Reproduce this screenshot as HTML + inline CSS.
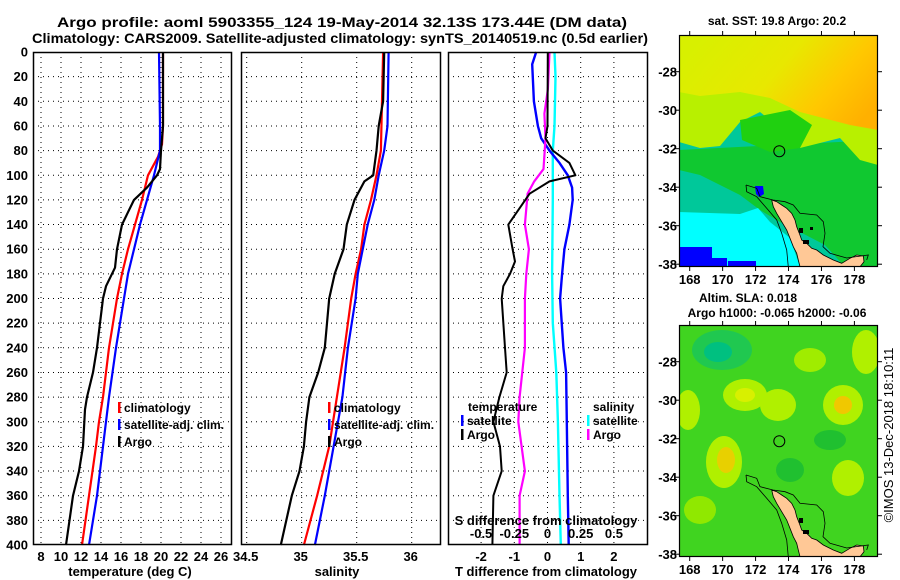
<!DOCTYPE html>
<html><head><meta charset="utf-8"><style>
html,body{margin:0;padding:0;background:#fff;}
svg{display:block;font-family:"Liberation Sans",sans-serif;}
.t{font-weight:bold;font-size:12px;fill:#000;}
</style></head><body>
<svg id="fig" width="900" height="580" viewBox="0 0 900 580" xmlns="http://www.w3.org/2000/svg">
<text x="57" y="27" class="t" style="font-size:14px" textLength="570" lengthAdjust="spacingAndGlyphs">Argo profile: aoml 5903355_124 19-May-2014 32.13S 173.44E (DM data)</text>
<text x="32" y="43" class="t" style="font-size:14px" textLength="616" lengthAdjust="spacingAndGlyphs">Climatology: CARS2009. Satellite-adjusted climatology: synTS_20140519.nc (0.5d earlier)</text>
<g id="p1"></g>
<g id="p2"></g>
<g id="p3"></g>

<!-- SST map -->
<g>
<defs>
<linearGradient id="topg" x1="0" y1="0.3" x2="1" y2="0.7">
<stop offset="0" stop-color="#d8f000"/><stop offset="0.45" stop-color="#e8e800"/><stop offset="0.75" stop-color="#ffc800"/><stop offset="1" stop-color="#ffb000"/>
</linearGradient>
<clipPath id="c1"><rect x="679" y="35" width="199" height="232"/></clipPath>
<clipPath id="c2"><rect x="679" y="325" width="199" height="232"/></clipPath>
</defs>
<text x="777" y="25" text-anchor="middle" class="t">sat. SST: 19.8 Argo: 20.2</text>
<g clip-path="url(#c1)">
<rect x="679" y="35" width="199" height="232" fill="#00c89a"/>
<polygon points="679,150 878,140 878,267 845,267 825,245 800,232 780,222 760,210 740,195 720,185 700,175 679,170" fill="#10c830"/>
<polygon points="679,35 878,35 878,165 860,160 840,138 800,148 780,128 760,112 740,122 720,146 700,148 679,142" fill="#b8f000"/>
<polygon points="679,35 878,35 878,130 850,125 800,112 770,98 740,92 700,96 679,92" fill="url(#topg)"/>
<polygon points="740,120 790,110 812,125 800,148 770,152 742,140" fill="#20d010"/>
<polygon points="679,212 740,214 758,208 770,222 790,238 800,267 679,267" fill="#00ffff"/>
<rect x="679" y="247" width="33" height="20" fill="#0000ff"/>
<rect x="712" y="258" width="15" height="9" fill="#0000ff"/>
<rect x="728" y="261" width="28" height="6" fill="#0000ff"/>
<polygon points="755,186 763,186 764,194 759,197 756,194" fill="#0000ff"/>
<polygon points="771.7,200 776.7,201.7 781.7,205 786.7,208.3 791.7,213.3 795,220 796.7,226.7 799.3,233.3 801.7,240 806.7,243.3 811.7,248.3 816.7,250 823.3,255 833.3,260 841.7,263.3 850,258.3 856.7,255 863.3,256 864,261.7 860,266.7 800,266.7 798.3,260 796.7,253.3 793.3,246.7 790,238.3 786.7,230 781.7,221.7 776.7,213.3 773.3,206.7" fill="#ffc896" stroke="#000" stroke-width="0.8"/>
<polyline points="746,185 756.7,188.3 760,196.7 773,200 785,201.7 793.3,205 800,213.3 816.7,215 823.3,221.7 825,233.3 823,246.7 830,253.3 846.7,258 868.3,255 866.7,260" fill="none" stroke="#000" stroke-width="0.8"/>
<polyline points="746,185 746.7,191.7 756.7,196.7 766.7,208.3 776.7,220 781.7,233.3 786.7,250 788.3,267" fill="none" stroke="#000" stroke-width="0.8"/>
<rect x="799" y="228" width="4" height="5" fill="#000"/><rect x="803" y="240" width="6" height="4" fill="#000"/><rect x="810" y="227" width="3" height="3" fill="#000"/>
<circle cx="779.3" cy="151.2" r="5.5" fill="none" stroke="#000" stroke-width="1"/>
</g>
<rect x="679.5" y="35.5" width="198" height="231" fill="none" stroke="#000" stroke-width="1.2"/>
</g>

<!-- SLA map -->
<g>
<text x="748" y="302" text-anchor="middle" class="t">Altim. SLA: 0.018</text>
<text x="777" y="317" text-anchor="middle" class="t">Argo h1000: -0.065 h2000: -0.06</text>
<g clip-path="url(#c2)">
<rect x="679" y="325" width="199" height="232" fill="#40d420"/>
<ellipse cx="722" cy="350" rx="30" ry="20" fill="#20c850"/>
<ellipse cx="718" cy="352" rx="14" ry="10" fill="#00c080"/>
<ellipse cx="745" cy="395" rx="22" ry="16" fill="#b0f000"/>
<ellipse cx="745" cy="395" rx="10" ry="7" fill="#d8f000"/>
<ellipse cx="778" cy="405" rx="18" ry="16" fill="#b0f000"/>
<ellipse cx="724" cy="462" rx="18" ry="26" fill="#b0f000"/>
<ellipse cx="726" cy="460" rx="9" ry="13" fill="#e8d000"/>
<ellipse cx="843" cy="405" rx="20" ry="20" fill="#b0f000"/>
<ellipse cx="843" cy="405" rx="9" ry="9" fill="#f0c800"/>
<ellipse cx="848" cy="478" rx="16" ry="18" fill="#b0f000"/>
<ellipse cx="866" cy="352" rx="14" ry="22" fill="#b0f000"/>
<ellipse cx="688" cy="410" rx="12" ry="20" fill="#b0f000"/>
<ellipse cx="810" cy="360" rx="16" ry="12" fill="#a0ec00"/>
<ellipse cx="700" cy="510" rx="16" ry="14" fill="#90e800"/>
<ellipse cx="790" cy="470" rx="14" ry="12" fill="#20c030"/>
<ellipse cx="830" cy="440" rx="16" ry="10" fill="#20c030"/>
<g transform="translate(0,290)">
<polygon points="771.7,200 776.7,201.7 781.7,205 786.7,208.3 791.7,213.3 795,220 796.7,226.7 799.3,233.3 801.7,240 806.7,243.3 811.7,248.3 816.7,250 823.3,255 833.3,260 841.7,263.3 850,258.3 856.7,255 863.3,256 864,261.7 860,266.7 800,266.7 798.3,260 796.7,253.3 793.3,246.7 790,238.3 786.7,230 781.7,221.7 776.7,213.3 773.3,206.7" fill="#ffc896" stroke="#000" stroke-width="0.8"/>
<polyline points="746,185 756.7,188.3 760,196.7 773,200 785,201.7 793.3,205 800,213.3 816.7,215 823.3,221.7 825,233.3 823,246.7 830,253.3 846.7,258 868.3,255 866.7,260" fill="none" stroke="#000" stroke-width="0.8"/>
<polyline points="746,185 746.7,191.7 756.7,196.7 766.7,208.3 776.7,220 781.7,233.3 786.7,250 788.3,267" fill="none" stroke="#000" stroke-width="0.8"/>
<rect x="799" y="228" width="4" height="5" fill="#000"/><rect x="803" y="240" width="6" height="4" fill="#000"/>
<circle cx="779.3" cy="151.2" r="5.5" fill="none" stroke="#000" stroke-width="1"/>
</g>
</g>
<rect x="679.5" y="325.5" width="198" height="231" fill="none" stroke="#000" stroke-width="1.2"/>
</g>
<text transform="translate(893,435) rotate(-90)" text-anchor="middle" style="font-size:13px">©IMOS 13-Dec-2018 18:10:11</text>
</svg>
<script>
// depth levels (m)
const depthTicks = [0,20,40,60,80,100,120,140,160,180,200,220,240,260,280,300,320,340,360,380,400];
// temperature panel
const tDepthClim = [0,60,75,85,100,120,140,160,180,200,240,280,300,320,360,400];
const tClim = [20.2,20.2,20.1,19.7,18.7,18.1,17.4,16.7,16.1,15.6,14.8,14.2,13.8,13.5,12.8,12.1];
const tDepthSat = [0,60,80,100,120,140,160,180,200,240,280,320,360,400];
const tSat = [19.8,19.9,19.9,19.3,18.6,17.9,17.3,16.7,16.3,15.5,14.8,14.2,13.6,12.8];
const tDepthArgo = [0,60,80,95,100,110,120,130,140,160,175,190,200,240,260,280,290,320,340,360,400];
const tArgo = [20.2,20.2,20.0,19.9,19.6,18.6,17.3,16.7,16.1,15.6,15.4,14.5,14.2,13.6,13.2,12.6,12.4,12.2,11.8,11.2,10.5];
const tTicks = [8,10,12,14,16,18,20,22,24,26];
// salinity panel
const sDepthClim = [0,80,100,120,140,160,180,200,240,280,320,360,400];
const sClim = [35.74,35.72,35.68,35.63,35.57,35.54,35.49,35.45,35.39,35.32,35.25,35.14,35.02];
const sDepthSat = [0,60,80,100,120,140,180,200,240,280,320,360,400];
const sSat = [35.79,35.78,35.75,35.70,35.66,35.60,35.51,35.49,35.42,35.37,35.29,35.21,35.12];
const sDepthArgo = [0,40,60,80,100,105,120,140,160,180,200,240,260,280,300,320,340,360,400];
const sArgo = [35.75,35.74,35.70,35.68,35.65,35.57,35.48,35.41,35.38,35.30,35.25,35.21,35.15,35.07,35.04,35.02,34.98,34.91,34.81];
const sTicks = [34.5,35,35.5,36];
// difference panel
const dDepthTSat = [0,10,40,60,70,80,90,100,110,120,140,160,180,200,240,260,300,360,400];
const dTSat = [-0.34,-0.46,-0.41,-0.29,-0.19,0.06,0.36,0.61,0.74,0.76,0.66,0.51,0.44,0.38,0.48,0.56,0.58,0.61,0.64];
const dDepthTArgo = [0,60,70,80,90,100,105,115,140,160,170,180,190,200,240,260,280,300,320,340,360,400];
const dTArgo = [0.01,0,-0.06,0.16,0.66,0.84,0.06,-0.54,-1.18,-1.05,-0.98,-1.13,-1.33,-1.38,-1.28,-1.23,-1.45,-1.63,-1.43,-1.38,-1.63,-1.66];
const dDepthSSat = [0,20,60,80,120,180,220,260,300,360,400];
const dSSat = [0.053,0.06,0.053,0.04,0.04,0.035,0.04,0.066,0.078,0.09,0.10];
const dDepthSArgo = [0,30,50,70,95,105,115,140,160,180,200,240,280,300,340,360,400];
const dSArgo = [0.015,0.003,-0.023,-0.015,-0.03,-0.1,-0.15,-0.17,-0.14,-0.16,-0.17,-0.17,-0.21,-0.22,-0.17,-0.21,-0.21];
const dTTicks = [-2,-1,0,1,2];
const dSTicks = [-0.5,-0.25,0,0.25,0.5];
const dSTickLabels = ['-0.5','-0.25','0','0.25','0.5'];
// map ticks
const lonTicks = [168,170,172,174,176,178];
const latTicks = [-28,-30,-32,-34,-36,-38];

const NS='http://www.w3.org/2000/svg';
const TOP=52, BOT=545;
const yD = d => TOP + d*(BOT-TOP)/400;
function mk(parent, tag, attrs, text){
  const e=document.createElementNS(NS,tag);
  for(const k in attrs) e.setAttribute(k,attrs[k]);
  if(text!==undefined) e.textContent=text;
  parent.appendChild(e); return e;
}
function panel(g, x0, x1, xs, ticks, grid){
  mk(g,'rect',{x:x0+0.5,y:TOP+0.5,width:x1-x0-1,height:BOT-TOP-1,fill:'#fff',stroke:'none'});
  depthTicks.forEach(d=>{
    if(d>0&&d<400){const l=mk(g,'line',{x1:x0,x2:x1,y1:yD(d),y2:yD(d),stroke:'#000','stroke-width':1,'stroke-dasharray':'1,4'});
    
    }
  });
  grid.forEach(v=>{
    const l=mk(g,'line',{x1:xs(v),x2:xs(v),y1:TOP,y2:BOT,stroke:'#000','stroke-width':1,'stroke-dasharray':'1,4'});
    
    
  });
}
function frame(g,x0,x1){
  mk(g,'rect',{x:x0+0.5,y:TOP+0.5,width:x1-x0-1,height:BOT-TOP-1,fill:'none',stroke:'#000','stroke-width':1.5});
}
function line(g, depths, vals, xs, color, w, name){
  const pts=depths.map((d,i)=>xs(vals[i]).toFixed(1)+','+yD(d).toFixed(1)).join(' ');
  const p=mk(g,'polyline',{points:pts,fill:'none',stroke:color,'stroke-width':w,'stroke-linejoin':'round'});
  
  
}
function legend(g,x,y,color,label,name){
  mk(g,'rect',{x:x,y:y-10,width:2.5,height:11,fill:color});
  const t=mk(g,'text',{x:x+6,y:y,class:'t'},label);
  
  
}

// Panel 1
const p1=document.getElementById('p1');
const xT = v => 41 + (v-8)*10;
panel(p1,33,232,xT,tTicks,tTicks);
line(p1,tDepthClim,tClim,xT,'#ff0000',2.2,'climatology-temperature-line');
line(p1,tDepthSat,tSat,xT,'#0000ff',2.2,'satellite-temperature-line');
line(p1,tDepthArgo,tArgo,xT,'#000000',2.2,'argo-temperature-line');
frame(p1,33,232);
depthTicks.forEach(d=>{
  const t=mk(p1,'text',{x:28,y:yD(d)+4.5,'text-anchor':'end',class:'t',style:'font-size:13px'},String(d));
  
  
});
tTicks.forEach(v=>{
  const t=mk(p1,'text',{x:xT(v),y:561,'text-anchor':'middle',class:'t',style:'font-size:13px'},String(v));
  
  
});
const tt=mk(p1,'text',{x:130,y:576,'text-anchor':'middle',class:'t',style:'font-size:13px'},'temperature (deg C)');


legend(p1,118,412,'#ff0000','climatology','legend-climatology');
legend(p1,118,429,'#0000ff','satellite-adj. clim.','legend-satellite-adj');
legend(p1,118,446,'#000000','Argo','legend-argo');

// Panel 2
const p2=document.getElementById('p2');
const xS = v => 301.7 + (v-35)*110;
panel(p2,241,441,xS,sTicks,sTicks);
line(p2,sDepthClim,sClim,xS,'#ff0000',2.2,'climatology-salinity-line');
line(p2,sDepthSat,sSat,xS,'#0000ff',2.2,'satellite-salinity-line');
line(p2,sDepthArgo,sArgo,xS,'#000000',2.2,'argo-salinity-line');
frame(p2,241,441);
sTicks.forEach(v=>{
  const t=mk(p2,'text',{x:xS(v)-1,y:561,'text-anchor':'middle',class:'t',style:'font-size:13px'},String(v));
  
  
});
const st=mk(p2,'text',{x:337,y:576,'text-anchor':'middle',class:'t',style:'font-size:13px'},'salinity');


legend(p2,328,412,'#ff0000','climatology','legend-climatology-2');
legend(p2,328,429,'#0000ff','satellite-adj. clim.','legend-satellite-adj-2');
legend(p2,328,446,'#000000','Argo','legend-argo-2');

// Panel 3
const p3=document.getElementById('p3');
const xDT = v => 547.5 + v*33.2;
const xDS = v => 547.5 + v*132.8;
panel(p3,448,648,xDT,dTTicks,dTTicks);
line(p3,dDepthSSat,dSSat,xDS,'#00ffff',2.4,'salinity-satellite-diff-line');
line(p3,dDepthTSat,dTSat,xDT,'#0000ff',2.4,'temperature-satellite-diff-line');
line(p3,dDepthSArgo,dSArgo,xDS,'#ff00ff',2.2,'salinity-argo-diff-line');
line(p3,dDepthTArgo,dTArgo,xDT,'#000000',2,'temperature-argo-diff-line');
frame(p3,448,648);
dTTicks.forEach(v=>{
  const t=mk(p3,'text',{x:xDT(v),y:561,'text-anchor':'middle',class:'t',style:'font-size:13px'},String(v));
  
  
});
dSTicks.forEach((v,i)=>{
  const t=mk(p3,'text',{x:xDS(v),y:538,'text-anchor':'middle',class:'t',style:'font-size:13px'},dSTickLabels[i]);
  
  
});
const sd=mk(p3,'text',{x:546,y:525,'text-anchor':'middle',class:'t',style:'font-size:13px'},'S difference from climatology');


const td=mk(p3,'text',{x:546,y:576,'text-anchor':'middle',class:'t',style:'font-size:13px'},'T difference from climatology');


mk(p3,'text',{x:468,y:411,class:'t'},'temperature');
mk(p3,'text',{x:593,y:411,class:'t'},'salinity');
legend(p3,461,425,'#0000ff','satellite','legend-temperature-satellite');
legend(p3,461,439,'#000000','Argo','legend-temperature-argo');
legend(p3,587,425,'#00ffff','satellite','legend-salinity-satellite');
legend(p3,587,439,'#ff00ff','Argo','legend-salinity-argo');

// map ticks
const fig=document.getElementById('fig');
const xLon = v => 689.7 + (v-168)*16.47;
[[71.7,280],[361.7,570]].forEach(([lat0,ly])=>{
  const top = lat0===71.7?35:325, bot=top+232;
  const yLat = v => lat0 + (-28-v)*19.25;
  lonTicks.forEach(v=>{
    mk(fig,'line',{x1:xLon(v),x2:xLon(v),y1:top-4,y2:top,stroke:'#000'});
    mk(fig,'line',{x1:xLon(v),x2:xLon(v),y1:bot,y2:bot+4,stroke:'#000'});
    const t=mk(fig,'text',{x:xLon(v),y:ly+4,'text-anchor':'middle',class:'t',style:'font-size:13px'},String(v));
    
    
  });
  latTicks.forEach(v=>{
    mk(fig,'line',{x1:675,x2:679,y1:yLat(v),y2:yLat(v),stroke:'#000'});
    mk(fig,'line',{x1:878,x2:882,y1:yLat(v),y2:yLat(v),stroke:'#000'});
    const t=mk(fig,'text',{x:677,y:yLat(v)+5,'text-anchor':'end',class:'t',style:'font-size:13px'},String(v));
    
    
  });
});
</script>
</body></html>
